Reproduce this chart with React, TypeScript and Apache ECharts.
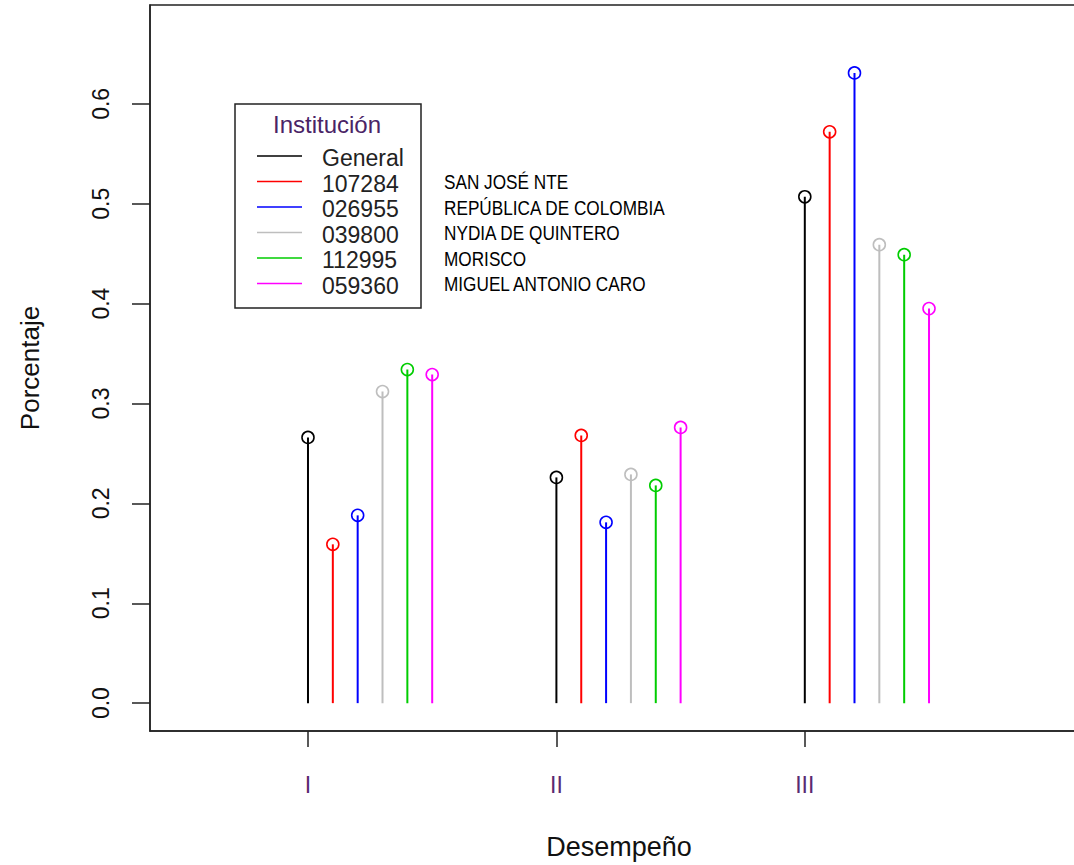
import React, { useEffect, useRef } from "react";
import * as echarts from "echarts";

const categories = ["I", "II", "III"];
const institutions = ["General", "107284", "026955", "039800", "112995", "059360"];
const schoolNames = ["", "SAN JOSÉ NTE", "REPÚBLICA DE COLOMBIA", "NYDIA DE QUINTERO", "MORISCO", "MIGUEL ANTONIO CARO"];
const colors = ["#000000", "#FF0000", "#0000FF", "#BEBEBE", "#00CD00", "#FF00FF"];

const valGeneral = [0.266, 0.226, 0.507];
const val107284 = [0.159, 0.268, 0.572];
const val026955 = [0.188, 0.181, 0.631];
const val039800 = [0.312, 0.229, 0.459];
const val112995 = [0.334, 0.218, 0.449];
const val059360 = [0.329, 0.276, 0.395];
const seriesValues = [valGeneral, val107284, val026955, val039800, val112995, val059360];

const yTicks = [0, 0.1, 0.2, 0.3, 0.4, 0.5, 0.6];
const xTicks = [1, 2, 3];
const offsetStep = 0.1;

const FONT = "'Liberation Sans', Arial, sans-serif";

export default function App() {
  const ref = useRef<HTMLDivElement>(null);
  useEffect(() => {
    if (!ref.current) return;
    const chart = echarts.init(ref.current, null, { renderer: "svg" });

    const series = institutions.map((name, i) => ({
      type: "custom",
      name,
      data: seriesValues[i].map((v, k) => [xTicks[k] + offsetStep * i, v]),
      renderItem: (params: any, api: any) => {
        const x = api.value(0);
        const y = api.value(1);
        const top = api.coord([x, y]);
        const base = api.coord([x, 0]);
        return {
          type: "group",
          children: [
            {
              type: "line",
              shape: { x1: base[0], y1: base[1], x2: top[0], y2: top[1] },
              style: { stroke: colors[i], lineWidth: 2 },
            },
            {
              type: "circle",
              shape: { cx: top[0], cy: top[1], r: 6 },
              style: { fill: "none", stroke: colors[i], lineWidth: 1.6 },
            },
          ],
        };
      },
    }));

    const legendX = 235;
    const legendY = 104;
    const rowY0 = 156;
    const rowStep = 25.5;
    const graphic: any[] = [
      {
        type: "rect",
        shape: { x: legendX, y: legendY, width: 186, height: 204 },
        style: { fill: "#fff", stroke: "#222", lineWidth: 1.5 },
        z: 10,
      },
      {
        type: "text",
        x: 327,
        y: 124,
        style: {
          text: "Institución",
          fill: "#4a2466",
          font: `24px ${FONT}`,
          textAlign: "center",
          textVerticalAlign: "middle",
        },
        z: 11,
      },
    ];
    institutions.forEach((name, i) => {
      const y = rowY0 + rowStep * i;
      graphic.push({
        type: "line",
        shape: { x1: 257, y1: y, x2: 302, y2: y },
        style: { stroke: colors[i], lineWidth: 1.5 },
        z: 11,
      });
      graphic.push({
        type: "text",
        x: 322,
        y: y + 2,
        style: {
          text: name,
          fill: "#222",
          font: `23px ${FONT}`,
          textAlign: "left",
          textVerticalAlign: "middle",
        },
        z: 11,
      });
      if (schoolNames[i]) {
        graphic.push({
          type: "text",
          x: 444,
          y: y + 1,
          scaleX: 0.86,
          style: {
            text: schoolNames[i],
            fill: "#000",
            font: `20px ${FONT}`,
            textAlign: "left",
            textVerticalAlign: "middle",
          },
          z: 11,
        });
      }
    });

    chart.setOption({
      animation: false,
      backgroundColor: "#ffffff",
      grid: {
        left: 150,
        right: 12,
        top: 5,
        bottom: 130,
        show: true,
        borderColor: "#222",
        borderWidth: 1.5,
        backgroundColor: "transparent",
      },
      xAxis: {
        type: "value",
        min: 0.364,
        max: 4.14,
        splitLine: { show: false },
        axisLine: { show: true, onZero: false, lineStyle: { color: "#222", width: 1.5 } },
        axisTick: {
          show: true,
          length: 16,
          customValues: xTicks,
          lineStyle: { color: "#222", width: 1.5 },
        },
        axisLabel: {
          show: true,
          customValues: xTicks,
          margin: 42,
          fontSize: 23,
          fontFamily: FONT,
          color: "#5a2a72",
          formatter: (v: number) => categories[Math.round(v) - 1] ?? "",
        },
        name: "Desempeño",
        nameLocation: "middle",
        nameGap: 102,
        nameTextStyle: { fontSize: 27, fontFamily: FONT, color: "#111" },
      },
      yAxis: {
        type: "value",
        min: -0.0279,
        max: 0.699,
        splitLine: { show: false },
        axisLine: { show: true, lineStyle: { color: "#222", width: 1.5 } },
        axisTick: {
          show: true,
          length: 18,
          customValues: yTicks,
          lineStyle: { color: "#222", width: 1.5 },
        },
        axisLabel: {
          show: true,
          customValues: yTicks,
          rotate: 90,
          margin: 38,
          fontSize: 23,
          fontFamily: FONT,
          color: "#111",
          formatter: (v: number) => v.toFixed(1),
        },
        name: "Porcentaje",
        nameLocation: "middle",
        nameGap: 107,
        nameTextStyle: { fontSize: 26, fontFamily: FONT, color: "#111" },
      },
      series,
      graphic,
    });
    return () => chart.dispose();
  }, []);

  return (
    <div
      style={{
        position: "absolute",
        left: 0,
        top: 0,
        width: 1074,
        height: 865,
        overflow: "hidden",
        background: "#fff",
      }}
    >
      <div ref={ref} style={{ width: 1100, height: 865 }} />
    </div>
  );
}
